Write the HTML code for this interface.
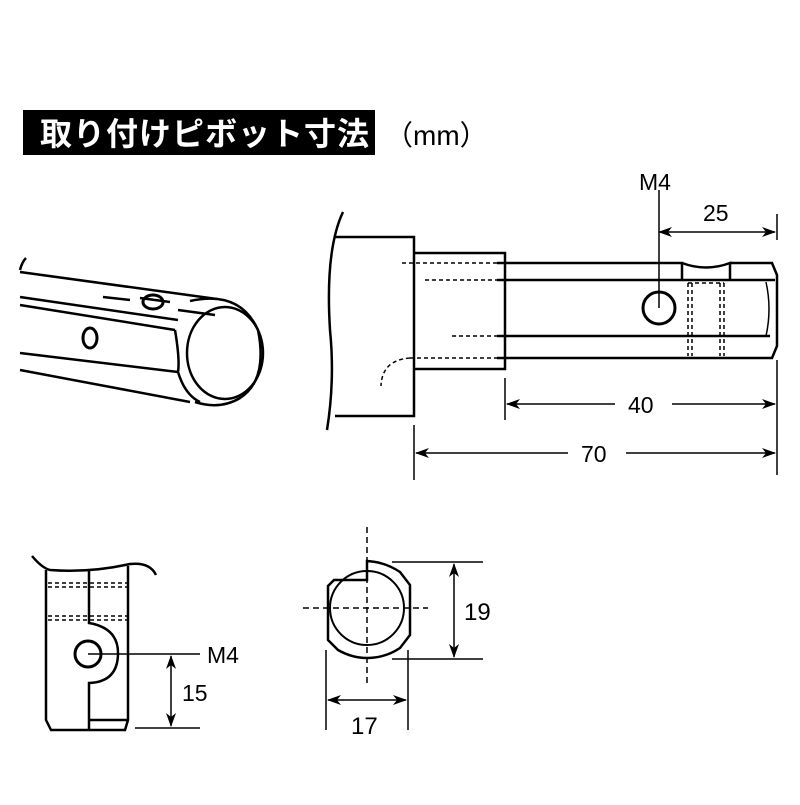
<!DOCTYPE html>
<html><head><meta charset="utf-8"><style>
body{margin:0;background:#fff;width:800px;height:800px;overflow:hidden}
</style></head><body>
<svg width="800" height="800" viewBox="0 0 800 800" xmlns="http://www.w3.org/2000/svg" font-family="Liberation Sans, sans-serif">
<defs>
<marker id="a" markerWidth="14" markerHeight="10" refX="13" refY="5" orient="auto" markerUnits="userSpaceOnUse"><path d="M0,0 L14,5 L0,10 L4,5Z" fill="#000"/></marker>
<marker id="b" markerWidth="14" markerHeight="10" refX="1" refY="5" orient="auto" markerUnits="userSpaceOnUse"><path d="M14,0 L0,5 L14,10 L10,5Z" fill="#000"/></marker>
</defs>
<rect x="23" y="110" width="352" height="45" fill="#000"/>
<text x="40" y="145" fill="#fff" font-size="32" font-weight="bold" letter-spacing="1" font-family="Liberation Sans, Noto Sans CJK JP, sans-serif">取り付けピボット寸法</text>
<text x="385" y="145" font-size="28" font-family="Liberation Sans, Noto Sans CJK JP, sans-serif">（mm）</text>

<g fill="none" stroke="#000" stroke-width="2.5">
<path d="M20,270 Q22,262 26,258"/>
<path d="M20,272 L217,299"/>
<path d="M20,297 L178,320"/>
<path d="M20,305 L175,330"/>
<path d="M20,353 L178,372"/>
<path d="M20,370 L190,402"/>
<path d="M175,330 Q180,360 178,372 Q185,395 200,402"/>
<ellipse cx="225" cy="353" rx="38" ry="46"/>
<path d="M190,301 Q240,290 258,330 Q268,380 240,398 Q220,410 195,402"/>
<path d="M103,297 L130,300 M140,298 L170,302 M178,310 L215,315"/>
<ellipse cx="153" cy="302" rx="10" ry="7" stroke-width="3"/>
<ellipse cx="90" cy="338" rx="7" ry="10" stroke-width="3"/>
<path d="M343,212 Q325,250 330,330 Q335,380 327,430"/>
<path d="M335,237 H414 V416 H335"/>
<path d="M414,253 H505 V369 H414"/>
<path d="M497,263 H682 V280 M682,263 Q706,272 730,263 V280 M730,263 H772 L777,275 V346 L772,358 H497"/>
<path d="M497,280 H775 M497,336 H770"/>
<path d="M766,282 Q772,309 766,336" stroke-width="1.5"/>
<circle cx="659" cy="308" r="16" stroke-width="3"/>
<path d="M659,190 V308" stroke-width="1.5"/>
</g>
<g fill="none" stroke="#000" stroke-width="1.5" stroke-dasharray="4,3">
<path d="M402,263 H497 M425,280 H497 M452,336 H497 M410,358 H497"/>
<path d="M410,358 Q382,360 381,386"/>
<path d="M688,283 V356 M692,283 V356 M720,283 V356 M724,283 V356 M688,283 H724"/>
</g>
<g stroke="#000" stroke-width="1.5" fill="none">
<path d="M777,214 V240 M777,360 V475 M505,378 V420 M414,425 V480"/>
<line x1="659" y1="232" x2="775" y2="232" marker-start="url(#b)" marker-end="url(#a)"/>
<line x1="507" y1="404" x2="615" y2="404" marker-start="url(#b)"/>
<line x1="672" y1="404" x2="775" y2="404" marker-end="url(#a)"/>
<line x1="416" y1="453" x2="568" y2="453" marker-start="url(#b)"/>
<line x1="626" y1="453" x2="775" y2="453" marker-end="url(#a)"/>
</g>
<g font-size="23">
<text x="639" y="190">M4</text>
<text x="703" y="221">25</text>
<text x="628" y="413">40</text>
<text x="581" y="462">70</text>
</g>

<g fill="none" stroke="#000" stroke-width="2.5">
<path d="M32,556 Q42,568 50,570 Q90,573 130,564 Q150,562 156,575"/>
<path d="M46,570 V720 L51,730 H125 L128,720 V566"/>
<path d="M89,570 V623 Q118,628 118,653 Q118,682 89,683 V730"/>
<path d="M89,720 H128"/>
<circle cx="88" cy="654" r="13" stroke-width="3"/>
</g>
<g fill="none" stroke="#000" stroke-width="1.5" stroke-dasharray="4,3">
<path d="M48,583 H128 M48,587 H128 M48,616 H128 M48,620 H128"/>
</g>
<g stroke="#000" stroke-width="1.5" fill="none">
<path d="M88,654 H200 M135,728 H200"/>
<line x1="171" y1="656" x2="171" y2="726" marker-start="url(#b)" marker-end="url(#a)"/>
</g>
<text x="207" y="663" font-size="23">M4</text>
<text x="182" y="701" font-size="23">15</text>

<g fill="none" stroke="#000" stroke-width="2.5">
<path d="M367,580 H334 L328,586 V640 L338,650 Q352,658 367,658 Q385,658 400,648 L410,635 V585 L400,572 Q385,562 367,561 Z"/>
<circle cx="367" cy="608" r="37" stroke-width="2"/>
</g>
<g fill="none" stroke="#000" stroke-width="1.5" stroke-dasharray="6,4">
<path d="M367,527 V685 M303,608 H428"/>
</g>
<g stroke="#000" stroke-width="1.5" fill="none">
<path d="M392,562 H483 M392,659 H483 M326,650 V730 M408,650 V730"/>
<line x1="454" y1="564" x2="454" y2="657" marker-start="url(#b)" marker-end="url(#a)"/>
<line x1="328" y1="700" x2="406" y2="700" marker-start="url(#b)" marker-end="url(#a)"/>
</g>
<text x="464" y="620" font-size="24">19</text>
<text x="351" y="734" font-size="24">17</text>
</svg>
</body></html>
